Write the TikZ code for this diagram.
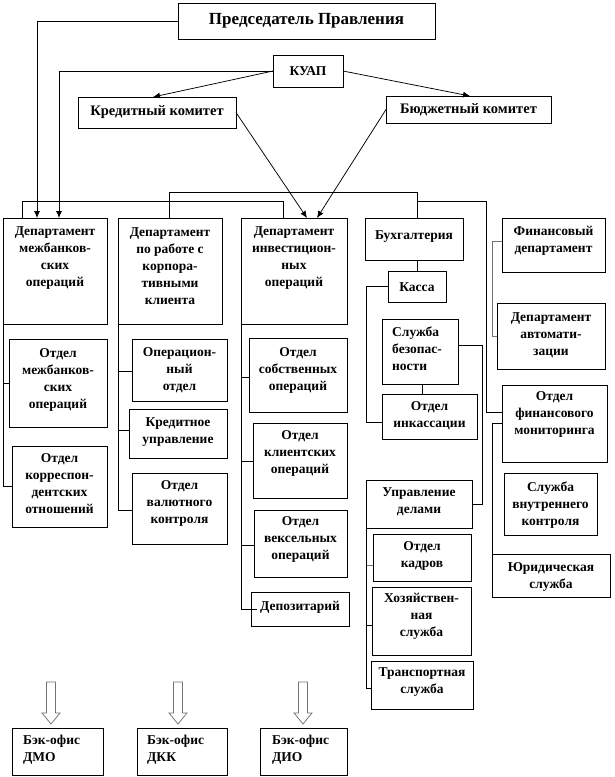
\documentclass[tikz,border=0pt]{standalone}
\usepackage{fontspec}
\setmainfont{Liberation Serif}
\usetikzlibrary{calc,arrows.meta}
\tikzset{
  bx/.style={draw, line width=0.75pt, inner sep=0pt, outer sep=0pt},
  txt/.style={font=\bfseries\fontsize{13.5}{17}\selectfont, align=center, inner sep=0pt},
  ln/.style={line width=0.75pt},
  gln/.style={line width=0.75pt, draw=black!55},
  arr/.style={line width=0.75pt, -{Latex[length=7pt,width=6pt]}},
  hollow/.style={line width=0.75pt, draw=black!55, fill=white}
}
\newcommand\Bx[7]{%
  \node[bx, minimum width={(#4-#2)*1pt}, minimum height={(#5-#3)*1pt}] (#1) at ({(#2+#4)/2},{(#3+#5)/2}) {};
  \node[txt] (#1-t) at ({(#2+#4)/2},#6) {#7};}
\newcommand\BxL[8]{%
  \node[bx, minimum width={(#4-#2)*1pt}, minimum height={(#5-#3)*1pt}] (#1) at ({(#2+#4)/2},{(#3+#5)/2}) {};
  \node[txt, align=left, anchor=west] (#1-t) at (#6,#7) {#8};}
\newcommand\HArrow[1]{%
  \draw[hollow] ($(#1)+(-4.5,-46)$) -- ++(0,31) -- ++(-4.5,0) -- ++(9,11) -- ++(9,-11) -- ++(-4.5,0) -- ++(0,-31) -- cycle;}
\begin{document}
\begin{tikzpicture}[x=1pt,y=-1pt]
\useasboundingbox[fill=white] (0,0) rectangle (614,777);
% top
\Bx{pred}{178}{3}{435}{39}{21}{\fontsize{17}{20}\selectfont Председатель Правления}
\Bx{kuap}{273}{55}{343}{87}{71}{КУАП}
\Bx{kred}{78}{97}{236}{128}{112}{\fontsize{14.5}{17}\selectfont Кредитный комитет}
\Bx{budg}{386}{96}{551}{123}{110}{\fontsize{14.5}{17}\selectfont Бюджетный комитет}
% departments
\Bx{dmo}{3}{218}{107}{324}{258}{Департамент\\межбанков-\\ских\\операций}
\Bx{dkk}{118}{218}{222}{324}{266}{Департамент\\по работе с\\корпора-\\тивными\\клиента}
\Bx{dio}{241}{218}{347}{324}{258}{Департамент\\инвестицион-\\ных\\операций}
\Bx{buh}{365}{218}{463}{260}{237}{Бухгалтерия}
\Bx{kassa}{388}{271}{446}{302}{287}{Касса}
\BxL{sb}{382}{319}{458}{384}{392}{349}{Служба\\безопас-\\ности}
\Bx{inkas}{382}{394}{477}{439}{416}{Отдел\\инкассации}
\Bx{ud}{366}{480}{472}{528}{502}{Управление\\делами}
\Bx{kadr}{373}{534}{471}{581}{556}{Отдел\\кадров}
\Bx{hoz}{372}{587}{471}{655}{616}{Хозяйствен-\\ная\\служба}
\Bx{trans}{371}{661}{473}{709}{682}{Транспортная\\служба}
\Bx{findep}{502}{218}{605}{272}{241}{Финансовый\\департамент}
\Bx{avto}{497}{303}{605}{369}{335}{Департамент\\автомати-\\зации}
\Bx{finmon}{502}{385}{607}{462}{414}{Отдел\\финансового\\мониторинга}
\Bx{vnk}{504}{473}{597}{535}{505}{Служба\\внутреннего\\контроля}
\Bx{yur}{492}{554}{610}{597}{577}{Юридическая\\служба}
% sub-units
\Bx{omb}{9}{339}{107}{427}{380}{Отдел\\межбанков-\\ских\\операций}
\Bx{okor}{12}{446}{107}{527}{484}{Отдел\\корреспон-\\дентских\\отношений}
\Bx{oper}{132}{339}{227}{401}{370}{Операцион-\\ный\\отдел}
\Bx{kredupr}{129}{409}{227}{458}{432}{Кредитное\\управление}
\Bx{valk}{132}{473}{227}{544}{503}{Отдел\\валютного\\контроля}
\Bx{sobst}{249}{338}{347}{412}{370}{Отдел\\собственных\\операций}
\Bx{klient}{253}{423}{347}{498}{453}{Отдел\\клиентских\\операций}
\Bx{veks}{254}{510}{347}{577}{539}{Отдел\\вексельных\\операций}
\Bx{depoz}{251}{592}{349}{626}{607}{Депозитарий}
% back offices
\BxL{bo1}{12}{728}{103}{775}{23}{750}{Бэк-офис\\ДМО}
\BxL{bo2}{137}{728}{227}{775}{147}{750}{Бэк-офис\\ДКК}
\BxL{bo3}{260}{728}{347}{775}{272}{750}{Бэк-офис\\ДИО}
% connectors from top
\draw[arr] (pred.west) -| ($(dmo.north west)+(34,0)$);
\draw[arr] (kuap.west) -| ($(dmo.north west)+(56,0)$);
\draw[arr] (kuap.west) -- ($(kred.north west)+(75,0)$);
\draw[arr] (kuap.east) -- ($(budg.north west)+(84,0)$);
\draw[arr] (kred.east) -- ($(dio.north west)+(66,0)$);
\draw[arr] (budg.west) -- ($(dio.north west)+(76,0)$);
% corridors
\draw[ln] ($(dmo.north west)+(19,0)$) -- ++(0,-17) -| ($(dio.north west)+(42,0)$);
\draw[ln] ($(dkk.north west)+(51,0)$) -- ++(0,-26) -| ($(buh.north west)+(52,0)$);
\draw[ln] ($(buh.north west)+(52,-17)$) -| ($(finmon.north west)+(-16,27)$) -- ($(finmon.north west)+(0,27)$);
\draw[ln] ($(finmon.north west)+(0,38)$) -- ++(-10,0) -- (yur.north west);
\draw[gln] ($(findep.north west)+(0,23)$) -| ($(avto.west)+(-5,0)$) -- (avto.west);
% accounting block
\draw[ln] ($(buh.south west)+(52,0)$) -- ($(kassa.north west)+(29,0)$);
\draw[ln] (kassa.west) -- ++(-22,0) |- ($(inkas.north west)+(0,28)$);
\draw[ln] ($(sb.south west)+(40,0)$) -- ($(inkas.north west)+(40,0)$);
\draw[ln] ($(sb.north east)+(0,26)$) -| ($(ud.east)+(10,0)$) -- (ud.east);
\draw[gln] (ud.south west) |- ($(kadr.north west)+(0,31)$);
\draw[ln] (ud.south west) |- ($(hoz.north west)+(0,38)$);
\draw[ln] (ud.south west) |- ($(trans.north west)+(0,27)$);
% department buses
\draw[ln] (dmo.south west) |- ($(omb.north west)+(0,44)$);
\draw[ln] (dmo.south west) |- ($(okor.north west)+(0,40)$);
\draw[ln] (dkk.south west) |- ($(oper.north west)+(0,32)$);
\draw[ln] (dkk.south west) |- ($(kredupr.north west)+(0,21)$);
\draw[ln] (dkk.south west) |- ($(valk.north west)+(0,37)$);
\draw[ln] (dio.south west) |- ($(sobst.north west)+(0,39)$);
\draw[ln] (dio.south west) |- ($(klient.north west)+(0,38)$);
\draw[ln] (dio.south west) |- ($(veks.north west)+(0,35)$);
\draw[ln] (dio.south west) |- ($(depoz.north west)+(6,17)$);
% hollow arrows
\HArrow{$(bo1.north west)+(39,0)$}
\HArrow{$(bo2.north west)+(41,0)$}
\HArrow{$(bo3.north west)+(43,0)$}
\end{tikzpicture}
\end{document}
